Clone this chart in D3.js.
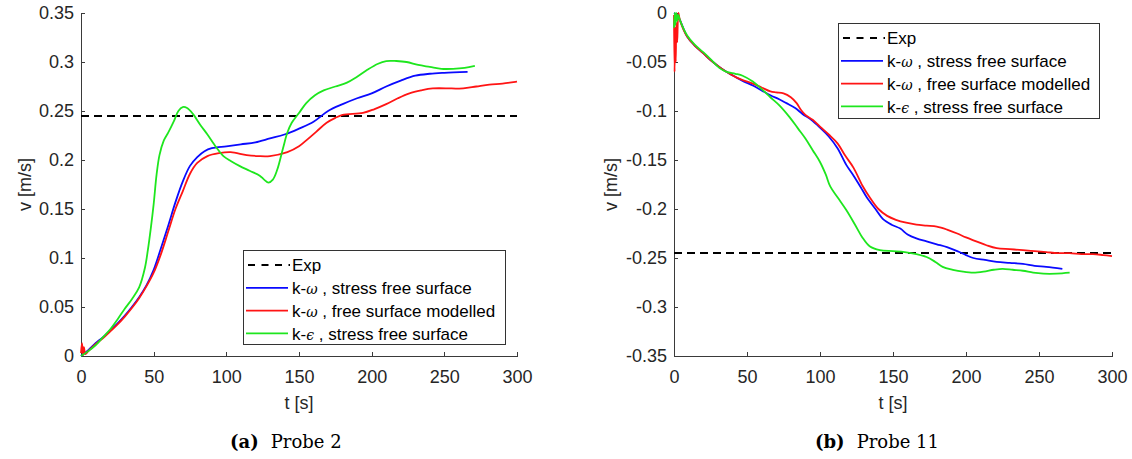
<!DOCTYPE html>
<html>
<head>
<meta charset="utf-8">
<script src="https://cdn.jsdelivr.net/npm/d3@7"></script>
<style>
  body { margin: 0; background: #fff; }
  svg { display: block; }
  .tick text { font-family: "Liberation Sans", Arial, sans-serif; font-size: 18px; fill: #262626; }
  .axis path, .axis line { stroke: #3a3a3a; }
  .axis-label { font-family: "Liberation Sans", Arial, sans-serif; font-size: 18px; fill: #262626; }
  .legend-text { font-family: "Liberation Sans", Arial, sans-serif; font-size: 17px; fill: #000; }
  .caption { font-family: "DejaVu Serif", serif; font-size: 18px; fill: #000; }
</style>
</head>
<body>
<div id="wrapper"></div>
<script>
// 1. data  (t [s], v [m/s])
const xTicks = [0, 50, 100, 150, 200, 250, 300];
const xTickLabels = ["0", "50", "100", "150", "200", "250", "300"];
const yTicksProbe2 = [0, 0.05, 0.1, 0.15, 0.2, 0.25, 0.3, 0.35];
const yTickLabelsProbe2 = ["0", "0.05", "0.1", "0.15", "0.2", "0.25", "0.3", "0.35"];
const yTicksProbe11 = [-0.35, -0.3, -0.25, -0.2, -0.15, -0.1, -0.05, 0];
const yTickLabelsProbe11 = ["-0.35", "-0.3", "-0.25", "-0.2", "-0.15", "-0.1", "-0.05", "0"];

const legendLabels = ["Exp", "k-ω , stress free surface", "k-ω , free surface modelled", "k-ϵ , stress free surface"];
const seriesColors = ["#000000", "#0a0aff", "#ff1414", "#1ee61e"];

const expProbe2 = 0.245;
const expProbe11 = -0.245;

const probe2KwStress = [[0,0],[5,0.006],[10,0.013],[15,0.019],[20,0.026],[25,0.033],[30,0.041],[35,0.05],[40,0.06],[45,0.072],[50,0.088],[55,0.11],[60,0.133],[65,0.157],[70,0.178],[75,0.194],[80,0.203],[85,0.209],[90,0.212],[100,0.214],[110,0.216],[120,0.218],[130,0.222],[140,0.226],[150,0.232],[160,0.239],[170,0.25],[180,0.257],[190,0.263],[200,0.268],[210,0.275],[220,0.281],[230,0.286],[240,0.288],[250,0.289],[266,0.29]];
const probe2KwModelled = [[0,0.003],[0.7,0.013],[1.4,0.001],[2,0.009],[3,0.002],[5,0.005],[10,0.012],[15,0.018],[20,0.025],[25,0.032],[30,0.04],[35,0.049],[40,0.059],[45,0.071],[50,0.085],[55,0.104],[60,0.127],[65,0.15],[70,0.168],[75,0.186],[80,0.197],[87,0.204],[95,0.207],[103,0.208],[114,0.205],[122,0.204],[130,0.204],[142,0.208],[150,0.214],[155,0.22],[162,0.229],[169,0.238],[175,0.243],[180,0.246],[194,0.248],[202,0.252],[210,0.257],[218,0.263],[226,0.268],[234,0.271],[242,0.273],[255,0.273],[263,0.273],[272,0.275],[281,0.277],[290,0.278],[300,0.28]];
const probe2KeStress = [[0,0],[5,0.005],[10,0.011],[15,0.019],[20,0.027],[25,0.037],[30,0.048],[35,0.058],[40,0.07],[44,0.09],[46,0.108],[48,0.13],[50,0.155],[52,0.185],[54,0.205],[57,0.22],[60,0.228],[64,0.24],[67,0.25],[70,0.254],[73,0.253],[77,0.247],[82,0.236],[87,0.226],[93,0.213],[98,0.204],[103,0.199],[109,0.194],[116,0.189],[123,0.184],[126,0.18],[129,0.177],[132,0.18],[135,0.19],[139,0.212],[142,0.228],[145,0.238],[150,0.248],[155,0.258],[161,0.266],[167,0.271],[175,0.275],[183,0.279],[190,0.285],[197,0.292],[204,0.298],[210,0.301],[217,0.301],[224,0.3],[232,0.297],[240,0.295],[248,0.293],[256,0.293],[264,0.294],[271,0.296]];

const probe11KwStress = [[0,0],[2,-0.002],[4,-0.007],[9,-0.024],[14,-0.033],[20,-0.041],[25,-0.048],[31,-0.055],[37,-0.061],[43,-0.066],[48,-0.07],[54,-0.074],[60,-0.079],[66,-0.084],[72,-0.088],[77,-0.092],[83,-0.097],[88,-0.103],[94,-0.109],[100,-0.117],[106,-0.126],[112,-0.138],[118,-0.155],[123,-0.166],[128,-0.178],[132,-0.188],[138,-0.2],[143,-0.21],[149,-0.216],[155,-0.22],[160,-0.226],[166,-0.23],[173,-0.233],[180,-0.236],[187,-0.239],[194,-0.243],[200,-0.247],[205,-0.25],[213,-0.252],[221,-0.254],[230,-0.255],[239,-0.256],[247,-0.258],[255,-0.259],[266,-0.261]];
const probe11KwModelled = [[0,-0.002],[0.4,-0.06],[0.8,-0.015],[1.2,-0.05],[1.6,-0.01],[2.2,-0.03],[3,0],[4,-0.007],[9,-0.024],[14,-0.033],[20,-0.041],[25,-0.048],[31,-0.055],[37,-0.061],[43,-0.066],[48,-0.069],[54,-0.072],[60,-0.076],[66,-0.08],[70,-0.081],[75,-0.082],[80,-0.086],[84,-0.092],[87,-0.099],[90,-0.104],[95,-0.109],[100,-0.116],[106,-0.124],[112,-0.133],[117,-0.145],[123,-0.158],[129,-0.176],[134,-0.188],[140,-0.2],[146,-0.207],[152,-0.211],[159,-0.214],[166,-0.216],[173,-0.217],[180,-0.218],[187,-0.221],[194,-0.225],[200,-0.229],[207,-0.233],[214,-0.237],[221,-0.24],[230,-0.241],[239,-0.242],[247,-0.243],[255,-0.244],[263,-0.245],[271,-0.245],[279,-0.246],[287,-0.246],[294,-0.247],[300,-0.248]];
const probe11KeStress = [[0,-0.015],[0.5,0],[1,-0.012],[1.5,0],[2.2,-0.008],[3,-0.002],[4,-0.007],[9,-0.023],[14,-0.032],[20,-0.04],[25,-0.047],[31,-0.056],[36,-0.06],[42,-0.062],[47,-0.064],[54,-0.07],[61,-0.079],[66,-0.086],[72,-0.094],[79,-0.106],[85,-0.118],[90,-0.128],[95,-0.14],[100,-0.152],[104,-0.165],[107,-0.177],[112,-0.188],[118,-0.201],[124,-0.216],[129,-0.229],[134,-0.238],[141,-0.242],[150,-0.243],[158,-0.244],[166,-0.246],[173,-0.249],[179,-0.254],[184,-0.259],[191,-0.262],[198,-0.264],[205,-0.265],[212,-0.264],[219,-0.262],[225,-0.261],[232,-0.262],[239,-0.263],[246,-0.265],[253,-0.266],[262,-0.266],[271,-0.265]];

// 2. dimensions
const width = 1132;
const height = 459;

const panels = [
  {
    left: 81, right: 517, top: 13, bottom: 356,
    yDomain: [0, 0.35], yTicks: yTicksProbe2, yLabels: yTickLabelsProbe2,
    exp: expProbe2, series: [probe2KwStress, probe2KwModelled, probe2KeStress],
    yLabelX: 31, legend: { x: 243, y: 250, w: 262, h: 94 },
    caption: { x: 230, tag: "(a)", text: "Probe 2" },
  },
  {
    left: 674, right: 1112, top: 13, bottom: 356,
    yDomain: [-0.35, 0], yTicks: yTicksProbe11, yLabels: yTickLabelsProbe11,
    exp: expProbe11, series: [probe11KwStress, probe11KwModelled, probe11KeStress],
    yLabelX: 617, legend: { x: 838, y: 23, w: 261, h: 95 },
    caption: { x: 815, tag: "(b)", text: "Probe 11" },
  },
];

// 3. draw canvas
const svg = d3.select("#wrapper")
  .append("svg")
  .attr("width", width)
  .attr("height", height);

panels.forEach(p => {
  // 4. scales
  const x = d3.scaleLinear().domain([0, 300]).range([p.left, p.right]);
  const y = d3.scaleLinear().domain(p.yDomain).range([p.bottom, p.top]);

  const g = svg.append("g");

  // axes, matlab style: ticks pointing inward, box off
  const xAxis = d3.axisBottom(x)
    .tickValues(xTicks)
    .tickFormat((d, i) => xTickLabels[i])
    .tickSizeInner(-4)
    .tickSizeOuter(0)
    .tickPadding(14);
  g.append("g")
    .attr("class", "axis")
    .attr("transform", `translate(0,${p.bottom})`)
    .call(xAxis)
    .call(a => a.selectAll("path, line").attr("shape-rendering", "crispEdges"));

  const yAxis = d3.axisLeft(y)
    .tickValues(p.yTicks)
    .tickFormat((d, i) => p.yLabels[i])
    .tickSizeInner(-4)
    .tickSizeOuter(0)
    .tickPadding(7);
  g.append("g")
    .attr("class", "axis")
    .attr("transform", `translate(${p.left},0)`)
    .call(yAxis)
    .call(a => a.selectAll("path, line").attr("shape-rendering", "crispEdges"));

  // axis labels
  g.append("text")
    .attr("class", "axis-label")
    .attr("x", (p.left + p.right) / 2)
    .attr("y", 409)
    .attr("text-anchor", "middle")
    .text("t [s]");

  g.append("text")
    .attr("class", "axis-label")
    .attr("transform", `translate(${p.yLabelX},${(p.top + p.bottom) / 2}) rotate(-90)`)
    .attr("text-anchor", "middle")
    .text("v [m/s]");

  // 5. data
  const line = d3.line()
    .x(d => x(d[0]))
    .y(d => y(d[1]))
    .curve(d3.curveCatmullRom.alpha(0.5));

  g.append("line")
    .attr("x1", x(0)).attr("x2", x(300))
    .attr("y1", y(p.exp)).attr("y2", y(p.exp))
    .attr("stroke", seriesColors[0])
    .attr("stroke-width", 2)
    .attr("stroke-dasharray", "8,5");

  p.series.forEach((s, i) => {
    g.append("path")
      .attr("d", line(s))
      .attr("fill", "none")
      .attr("stroke", seriesColors[i + 1])
      .attr("stroke-width", 1.8)
      .attr("stroke-linejoin", "round");
  });

  // 6. legend
  const lg = g.append("g").attr("transform", `translate(${p.legend.x},${p.legend.y})`);
  lg.append("rect")
    .attr("x", 0.5).attr("y", 0.5)
    .attr("width", p.legend.w).attr("height", p.legend.h)
    .attr("fill", "#fff")
    .attr("stroke", "#333")
    .attr("stroke-width", 1);

  legendLabels.forEach((label, i) => {
    const ry = 15 + i * 22.8;
    lg.append("line")
      .attr("x1", i === 0 ? 5 : 3).attr("x2", i === 0 ? 47 : 45)
      .attr("y1", ry).attr("y2", ry)
      .attr("stroke", seriesColors[i])
      .attr("stroke-width", i === 0 ? 2 : 1.8)
      .attr("stroke-dasharray", i === 0 ? "7,6.5" : null);
    const t = lg.append("text")
      .attr("class", "legend-text")
      .attr("x", 49)
      .attr("y", ry)
      .attr("dy", "0.36em");
    if (i === 0) {
      t.text(label);
    } else {
      const parts = label.split(" , ");
      t.append("tspan").text(parts[0].slice(0, 2));
      t.append("tspan")
        .style("font-style", "italic")
        .style("font-family", "'DejaVu Serif', serif")
        .style("font-size", "14px")
        .text(parts[0].slice(2));
      t.append("tspan").text(" , " + parts[1]);
    }
  });

  // caption
  const cap = svg.append("text")
    .attr("class", "caption")
    .attr("x", p.caption.x)
    .attr("y", 448);
  cap.append("tspan").attr("font-weight", "bold").text(p.caption.tag);
  cap.append("tspan").attr("dx", 12).text(p.caption.text);
});
</script>
</body>
</html>
